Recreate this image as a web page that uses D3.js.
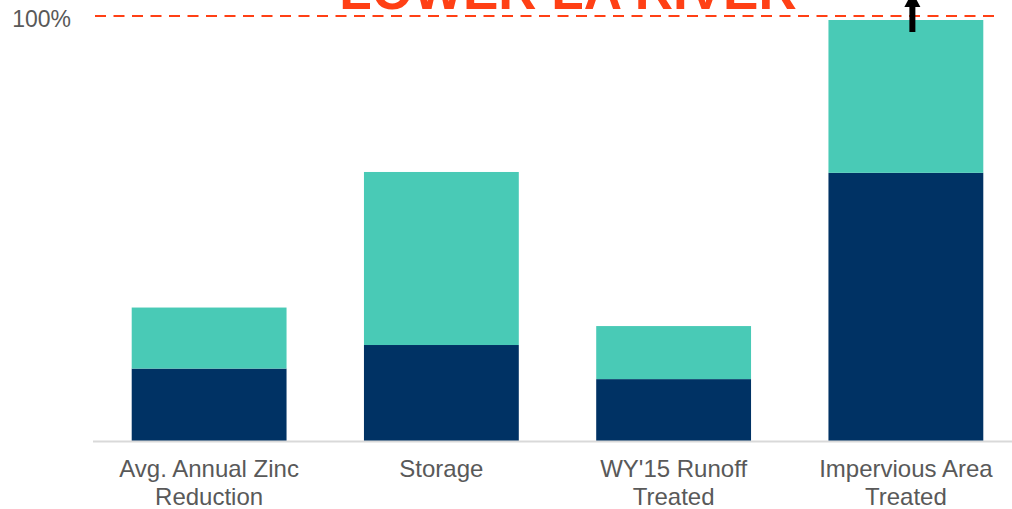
<!DOCTYPE html>
<html>
<head>
<meta charset="utf-8">
<script src="https://cdn.jsdelivr.net/npm/d3@7"></script>
<style>
  body { margin: 0; background: #fff; }
  svg { display: block; font-family: "Liberation Sans", Arial, sans-serif; }
</style>
</head>
<body>
<script>
// chart data (shares of the LA River target)
const categories = [
    ['Avg. Annual Zinc', 'Reduction'],
    ['Storage'],
    ["WY'15 Runoff", 'Treated'],
    ['Impervious Area', 'Treated']
];
const lowerValues = [0.172, 0.228, 0.147, 0.637];
const upperValues = [0.145, 0.411, 0.126, 0.363];
const yTicks = [1];

const W = 1012, H = 509;
const NAVY = '#003264', TEAL = '#49cab6', RED = '#ff4015', GREY = '#595959';

const svg = d3.select('body').append('svg')
    .attr('width', W)
    .attr('height', H);

const x = d3.scaleBand()
    .domain(d3.range(categories.length))
    .range([93, 1022])
    .paddingInner(1 / 3)
    .paddingOuter(1 / 6);

const y = d3.scaleLinear()
    .domain([0, 1])
    .range([441, 20]);

const rows = categories.map((c, i) => ({ i, lower: lowerValues[i], upper: upperValues[i] }));
const stack = d3.stack().keys(['lower', 'upper'])(rows);
const colors = { lower: NAVY, upper: TEAL };

/* bars */
svg.append('g')
  .selectAll('g')
  .data(stack)
  .join('g')
    .attr('fill', d => colors[d.key])
  .selectAll('rect')
  .data(d => d)
  .join('rect')
    .attr('x', d => x(d.data.i))
    .attr('width', x.bandwidth())
    .attr('y', d => y(d[1]))
    .attr('height', d => y(d[0]) - y(d[1]));

/* baseline */
svg.append('line')
    .attr('x1', 93).attr('x2', W)
    .attr('y1', y(0) + 0.5).attr('y2', y(0) + 0.5)
    .attr('stroke', '#d9d9d9')
    .attr('stroke-width', 2);

/* y tick label (only 100%) */
svg.append('g')
  .selectAll('text')
  .data(yTicks)
  .join('text')
    .attr('x', 71)
    .attr('y', d => y(d) + 7)
    .attr('text-anchor', 'end')
    .attr('fill', GREY)
    .style('font-size', '23px')
    .text(d3.format('.0%'));

/* category labels */
svg.append('g')
  .selectAll('text')
  .data(categories)
  .join('text')
    .attr('text-anchor', 'middle')
    .attr('fill', GREY)
    .style('font-size', '24px')
    .each(function(lines, i) {
        d3.select(this).selectAll('tspan')
          .data(lines)
          .join('tspan')
            .attr('x', x(i) + x.bandwidth() / 2)
            .attr('y', (d, j) => 477 + j * 28)
            .text(d => d);
    });

/* target line */
svg.append('line')
    .attr('x1', 95).attr('x2', 995)
    .attr('y1', 16).attr('y2', 16)
    .attr('stroke', RED)
    .attr('stroke-width', 2)
    .attr('stroke-dasharray', '11 7.5');

svg.append('text')
    .attr('x', 568)
    .attr('y', 9)
    .attr('text-anchor', 'middle')
    .attr('fill', RED)
    .style('font-size', '53px')
    .style('font-weight', 'bold')
    .text('LOWER LA RIVER');

/* arrow over the last bar */
const ax = x(3) + x.bandwidth() / 2 + 6.5;
svg.append('line')
    .attr('x1', ax).attr('x2', ax)
    .attr('y1', 32).attr('y2', 4)
    .attr('stroke', '#000')
    .attr('stroke-width', 6);
svg.append('path')
    .attr('d', `M${ax - 8},7 L${ax + 8},7 L${ax},-8 Z`)
    .attr('fill', '#000');
</script>
</body>
</html>
